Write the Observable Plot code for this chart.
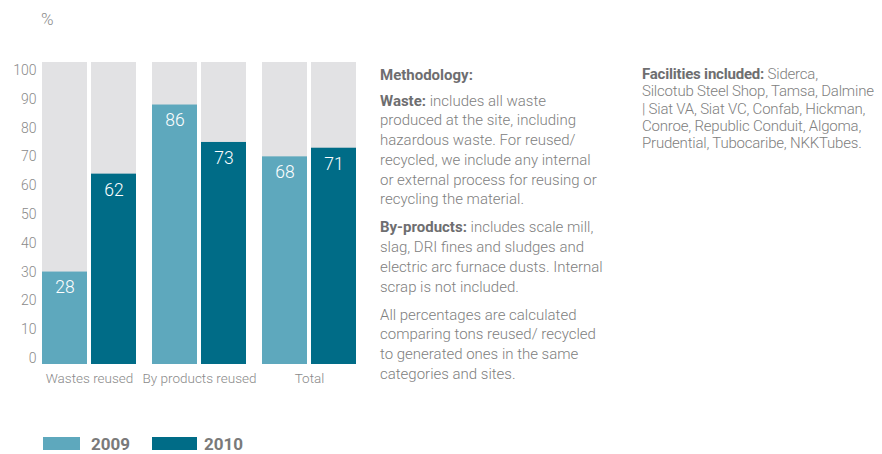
<!DOCTYPE html>
<html>
<head>
<meta charset="utf-8">
<script src="https://cdn.jsdelivr.net/npm/d3@7"></script>
<script src="https://cdn.jsdelivr.net/npm/@observablehq/plot@0.6"></script>
<style>
  html, body { margin: 0; padding: 0; background: #fff; }
  body { width: 882px; height: 454px; position: relative; overflow: hidden;
         font-family: "Roboto", "Liberation Sans", sans-serif; color: #7f7f7f; }
  #chart { position: absolute; left: 0; top: 0; }
  #unit { position: absolute; left: 41px; top: 9px; font-size: 17px; line-height: 20px; color: #8c8c8c; font-weight: 300; }
  .block { position: absolute; font-size: 15px; white-space: nowrap; color: #808080; font-weight: 300; }
  .block b { color: #6e6e70; font-weight: 700; }
  #method { left: 380px; top: 66px; line-height: 19.7px; }
  #method p { margin: 0 0 8.5px 0; }
  #method p.head { margin-bottom: 6px; }
  #facil { left: 642px; top: 66px; line-height: 17.3px; letter-spacing: -0.2px; }
  #legend { position: absolute; left: 0; top: 434px; }
  .sw { position: absolute; height: 13px; top: 3px; }
  .lt { position: absolute; top: 0; font-size: 17px; font-weight: bold; line-height: 20px; color: #7a7a7a; }
</style>
</head>
<body>
<div id="chart"></div>
<div id="unit">%</div>
<div id="method" class="block">
  <p class="head"><b>Methodology:</b></p>
  <p><b>Waste:</b> includes all waste<br>produced at the site, including<br>hazardous waste. For reused/<br>recycled, we include any internal<br>or external process for reusing or<br>recycling the material.</p>
  <p><b>By-products:</b> includes scale mill,<br>slag, DRI fines and sludges and<br>electric arc furnace dusts. Internal<br>scrap is not included.</p>
  <p>All percentages are calculated<br>comparing tons reused/ recycled<br>to generated ones in the same<br>categories and sites.</p>
</div>
<div id="facil" class="block">
  <b>Facilities included:</b> Siderca,<br>Silcotub Steel Shop, Tamsa, Dalmine<br>| Siat VA, Siat VC, Confab, Hickman,<br>Conroe, Republic Conduit, Algoma,<br>Prudential, Tubocaribe, NKKTubes.
</div>
<div id="legend"></div>
<script>
const categories = ["Wastes reused", "By products reused", "Total"];
const years = ["2009", "2010"];
const values2009 = [28, 86, 68];
const values2010 = [62, 73, 71];
const yMax = 100;
const yTicks = [0, 10, 20, 30, 40, 50, 60, 70, 80, 90, 100];

const yearColors = ["#5ea8bd", "#006c87"];
const trackColor = "#e2e2e4";
const fontFamily = '"Roboto", "Liberation Sans", sans-serif';

const table = categories.flatMap((c, i) => [
  {category: c, year: years[0], value: values2009[i]},
  {category: c, year: years[1], value: values2010[i]}
]);

const plot = Plot.plot({
  width: 370,
  height: 400,
  marginTop: 62,
  marginBottom: 36,
  marginLeft: 42,
  marginRight: 14,
  style: {fontFamily, fontSize: "14px", color: "#8a8a8a", background: "transparent"},
  fx: {domain: categories, paddingInner: 0.148, paddingOuter: 0, label: null},
  x: {domain: years, paddingInner: 0.082, paddingOuter: 0, axis: null},
  y: {domain: [0, yMax], range: [358, 70], label: null},
  color: {domain: years, range: yearColors},
  marks: [
    Plot.barY(table, {fx: "category", x: "year", y: () => yMax, fill: trackColor, insetTop: -8, insetBottom: -6}),
    Plot.barY(table, {fx: "category", x: "year", y: "value", fill: "year", insetTop: -5.8, insetBottom: -6}),
    Plot.text(table, {fx: "category", x: "year", y: "value", text: d => String(d.value),
      fill: "white", fontSize: 17.5, fontWeight: 300, dy: 10}),
    Plot.axisY({ticks: yTicks, tickSize: 0, tickPadding: 6, label: null, fontSize: 14, fontWeight: 300, fill: "#8a8a8a"}),
    Plot.axisFx({anchor: "bottom", tickSize: 0, tickPadding: 9, label: null, fontSize: 13.5, fontWeight: 300, fill: "#8a8a8a"})
  ]
});
document.getElementById("chart").appendChild(plot);

// legend
const legend = document.getElementById("legend");
const swatchLayout = [{sx: 43, sw: 37, tx: 91}, {sx: 152, sw: 45, tx: 204}];
years.forEach((y, i) => {
  const s = document.createElement("div");
  s.className = "sw";
  s.style.left = swatchLayout[i].sx + "px";
  s.style.width = swatchLayout[i].sw + "px";
  s.style.background = yearColors[i];
  legend.appendChild(s);
  const t = document.createElement("div");
  t.className = "lt";
  t.style.left = swatchLayout[i].tx + "px";
  t.textContent = y;
  legend.appendChild(t);
});
</script>
</body>
</html>
